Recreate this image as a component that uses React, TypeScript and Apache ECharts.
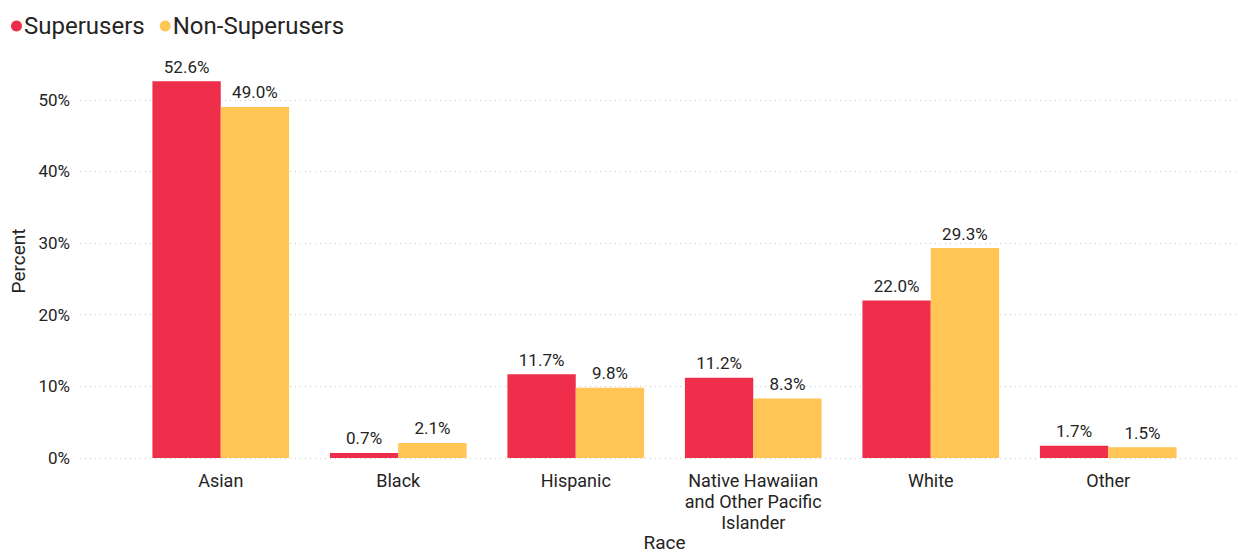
import React, { useEffect, useRef } from "react";
import * as echarts from "echarts";

const categories = ["Asian", "Black", "Hispanic", "Native Hawaiian\nand Other Pacific\nIslander", "White", "Other"];
const superusers = [52.6, 0.7, 11.7, 11.2, 22.0, 1.7];
const nonSuperusers = [49.0, 2.1, 9.8, 8.3, 29.3, 1.5];
const seriesNames = ["Superusers", "Non-Superusers"];
const colors = ["#EE2E4A", "#FFC555"];

const FONT = "Roboto, 'DejaVu Sans', sans-serif";
const TXT = "#252423";

export default function App() {
  const ref = useRef<HTMLDivElement>(null);
  useEffect(() => {
    if (!ref.current) return;
    const chart = echarts.init(ref.current, undefined, { renderer: "svg" });
    const label = {
      show: true,
      position: "top",
      distance: 6,
      formatter: (p: any) => p.value.toFixed(1) + "%",
      color: TXT,
      fontFamily: FONT,
      fontSize: 17,
    };
    chart.setOption({
      animation: false,
      textStyle: { fontFamily: FONT },
      legend: {
        left: 6,
        top: 9,
        icon: "circle",
        itemWidth: 11,
        itemHeight: 11,
        itemGap: 15,
        textStyle: { fontSize: 24, color: TXT, fontFamily: FONT, padding: [0, 0, 0, -3] },
        data: seriesNames,
      },
      grid: [
        { left: 80, right: 7, top: 64, bottom: 96, outerBoundsMode: "none" },
        { left: 132, right: 50, top: 64, bottom: 96, outerBoundsMode: "none" },
      ],
      xAxis: [
        {
          gridIndex: 0,
          type: "category",
          data: categories,
          show: false,
        },
        {
          gridIndex: 1,
          type: "category",
          data: categories,
          axisLine: { show: false },
          axisTick: { show: false },
          axisLabel: {
            color: TXT,
            fontSize: 18,
            fontFamily: FONT,
            margin: 12,
            lineHeight: 21,
            interval: 0,
          },
          name: "Race",
          nameLocation: "middle",
          nameMoveOverlap: false,
          nameGap: 74,
          nameTextStyle: { fontSize: 19, lineHeight: 20, color: TXT, fontFamily: FONT },
        },
      ],
      yAxis: [
        {
          gridIndex: 0,
          type: "value",
          min: 0,
          max: 55,
          interval: 10,
          axisLabel: {
            formatter: "{value}%",
            color: TXT,
            fontSize: 17,
            fontFamily: FONT,
            margin: 10,
            showMaxLabel: false,
          },
          splitLine: {
            show: true,
            showMaxLine: false,
            lineStyle: { type: [1, 4], color: "#c8c8c8", width: 1 },
          },
          axisLine: { show: false },
          axisTick: { show: false },
          name: "Percent",
          nameLocation: "middle",
          nameGap: 52,
          nameRotate: 90,
          nameTextStyle: { fontSize: 19, color: TXT, fontFamily: FONT },
        },
        {
          gridIndex: 1,
          type: "value",
          min: 0,
          max: 55,
          interval: 10,
          show: false,
          splitLine: { show: false },
        },
      ],
      series: [
        {
          name: seriesNames[0],
          type: "bar",
          xAxisIndex: 1,
          yAxisIndex: 1,
          data: superusers,
          itemStyle: { color: colors[0] },
          barGap: "0%",
          barCategoryGap: "23%",
          label,
        },
        {
          name: seriesNames[1],
          type: "bar",
          xAxisIndex: 1,
          yAxisIndex: 1,
          data: nonSuperusers,
          itemStyle: { color: colors[1] },
          barGap: "0%",
          barCategoryGap: "23%",
          label,
        },
      ],
    });
    return () => chart.dispose();
  }, []);
  return (
    <div
      ref={ref}
      style={{ position: "fixed", left: 0, top: 0, width: 1247, height: 554, background: "#fff" }}
    />
  );
}
